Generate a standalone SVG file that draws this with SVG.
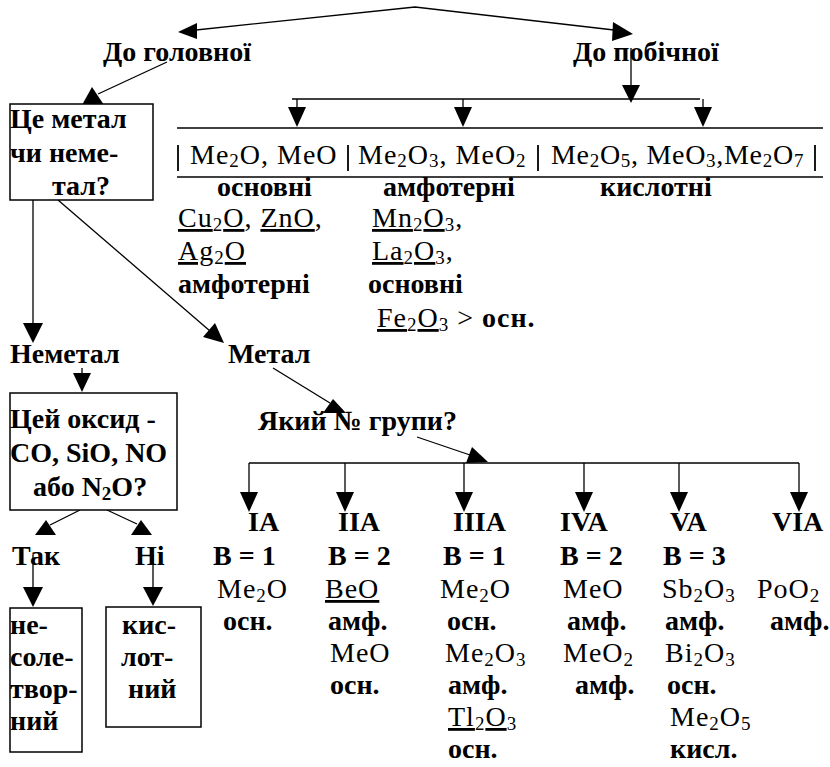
<svg xmlns="http://www.w3.org/2000/svg" width="830" height="767" viewBox="0 0 830 767">
<style>
text{font-family:"Liberation Serif","Times New Roman","DejaVu Serif",serif;font-size:28px;fill:#000}
.b{font-weight:bold}
.f{letter-spacing:1px}
.s{font-size:19px}
.u{text-decoration:underline}
.box{fill:#fff;stroke:#000;stroke-width:1.5}
.ln{stroke:#000;stroke-width:1.3;fill:none}
.bar{stroke:#000;stroke-width:1.8}
.ah{fill:#000}
</style>
<rect width="830" height="767" fill="#fff"/>

<g id="connectors">
 <polyline class="ln" points="196,30 415,7 614,30"/>
 <polygon class="ah" points="178,32 197,23 197,39"/>
 <polygon class="ah" points="633,34 613,22 612,41"/>
 <line class="ln" x1="167" y1="62" x2="98" y2="94"/>
 <polygon class="ah" points="92,87 82,105 104,105"/>
 <line class="ln" x1="631" y1="48" x2="631" y2="86"/>
 <polygon class="ah" points="622,85 640,85 631,103"/>
 <line class="ln" x1="292" y1="99" x2="700" y2="99"/>
 <line class="ln" x1="297" y1="99" x2="297" y2="108"/>
 <polygon class="ah" points="288,107 306,107 297,127"/>
 <line class="ln" x1="463" y1="99" x2="463" y2="108"/>
 <polygon class="ah" points="454,107 472,107 463,127"/>
 <line class="ln" x1="703" y1="99" x2="703" y2="108"/>
 <polygon class="ah" points="694,107 712,107 703,127"/>
 <line class="ln" x1="33" y1="200" x2="33" y2="324"/>
 <polygon class="ah" points="23,323 43,323 33,343"/>
 <line class="ln" x1="58" y1="200" x2="210" y2="331"/>
 <polygon class="ah" points="224,343 203,337 215,323"/>
 <line class="ln" x1="82" y1="368" x2="82" y2="374"/>
 <polygon class="ah" points="73,373 91,373 82,392"/>
 <line class="ln" x1="80" y1="510" x2="50" y2="525"/>
 <polygon class="ah" points="46,520 35,535 56,535"/>
 <line class="ln" x1="107" y1="510" x2="137" y2="524"/>
 <polygon class="ah" points="141,520 131,535 152,535"/>
 <line class="ln" x1="33" y1="555" x2="33" y2="588"/>
 <polygon class="ah" points="23,587 43,587 33,607"/>
 <line class="ln" x1="153" y1="555" x2="153" y2="588"/>
 <polygon class="ah" points="143,587 163,587 153,606"/>
 <line class="ln" x1="273" y1="368" x2="330" y2="403"/>
 <polygon class="ah" points="333,399 323,413 346,413"/>
 <line class="ln" x1="417" y1="437" x2="470" y2="455"/>
 <polygon class="ah" points="488,462 466,463 472,447"/>
 <line class="ln" x1="249" y1="463" x2="799" y2="463"/>
 <line class="ln" x1="249" y1="463" x2="249" y2="493"/>
 <polygon class="ah" points="240,492 258,492 249,512"/>
 <line class="ln" x1="345" y1="463" x2="345" y2="493"/>
 <polygon class="ah" points="336,492 354,492 345,512"/>
 <line class="ln" x1="464" y1="463" x2="464" y2="493"/>
 <polygon class="ah" points="455,492 473,492 464,512"/>
 <line class="ln" x1="584" y1="463" x2="584" y2="493"/>
 <polygon class="ah" points="575,492 593,492 584,512"/>
 <line class="ln" x1="679" y1="463" x2="679" y2="493"/>
 <polygon class="ah" points="670,492 688,492 679,512"/>
 <line class="ln" x1="799" y1="463" x2="799" y2="493"/>
 <polygon class="ah" points="790,492 808,492 799,512"/>
</g>

<g id="n-golovna"><text class="b" x="103" y="61">До головної</text></g>
<g id="n-pobichna"><text class="b" x="573" y="61">До побічної</text></g>

<g id="n-metal-q">
 <rect class="box" x="10" y="104" width="143" height="96"/>
 <text class="b" x="10" y="128">Це метал</text>
 <text class="b" x="10" y="162">чи неме-</text>
 <text class="b" x="52" y="195">тал?</text>
</g>

<g id="n-table">
 <line class="ln" x1="177" y1="128" x2="823" y2="128"/>
 <line class="ln" x1="177" y1="177" x2="823" y2="177"/>
 <line class="bar" x1="178" y1="145" x2="178" y2="171"/>
 <line class="bar" x1="348" y1="145" x2="348" y2="171"/>
 <line class="bar" x1="538" y1="145" x2="538" y2="171"/>
 <line class="bar" x1="815" y1="145" x2="815" y2="171"/>
 <text class="f" x="190" y="164">Me<tspan class="s" dy="3">2</tspan><tspan dy="-3">O, MeO</tspan></text>
 <text class="f" x="358" y="164">Me<tspan class="s" dy="3">2</tspan><tspan dy="-3">O</tspan><tspan class="s" dy="3">3</tspan><tspan dy="-3">, MeO</tspan><tspan class="s" dy="3">2</tspan></text>
 <text x="551" y="164" style="letter-spacing:0.7px">Me<tspan class="s" dy="3">2</tspan><tspan dy="-3">O</tspan><tspan class="s" dy="3">5</tspan><tspan dy="-3">, MeO</tspan><tspan class="s" dy="3">3</tspan><tspan dy="-3">,Me</tspan><tspan class="s" dy="3">2</tspan><tspan dy="-3">O</tspan><tspan class="s" dy="3">7</tspan></text>
 <text class="b" x="217" y="196">основні</text>
 <text class="b" x="383" y="196">амфотерні</text>
 <text class="b" x="600" y="196">кислотні</text>
</g>

<g id="n-osnovni-exc">
 <text class="f" x="178" y="227"><tspan class="u">Cu</tspan><tspan class="s" dy="4">2</tspan><tspan class="u" dy="-4">O</tspan>, <tspan class="u">ZnO</tspan>,</text>
 <text class="f" x="178" y="260"><tspan class="u">Ag</tspan><tspan class="s" dy="4">2</tspan><tspan class="u" dy="-4">O</tspan></text>
 <text class="b" x="178" y="293">амфотерні</text>
</g>

<g id="n-amfo-exc">
 <text class="f" x="372" y="227"><tspan class="u">Mn</tspan><tspan class="s" dy="4">2</tspan><tspan class="u" dy="-4">O</tspan><tspan class="s" dy="4">3</tspan><tspan dy="-4">,</tspan></text>
 <text class="f" x="372" y="260"><tspan class="u">La</tspan><tspan class="s" dy="4">2</tspan><tspan class="u" dy="-4">O</tspan><tspan class="s" dy="4">3</tspan><tspan dy="-4">,</tspan></text>
 <text class="b" x="368" y="293">основні</text>
 <text class="f" x="377" y="327"><tspan class="u">Fe</tspan><tspan class="s" dy="4">2</tspan><tspan class="u" dy="-4">O</tspan><tspan class="s" dy="4">3</tspan><tspan dy="-4"> &gt; </tspan><tspan class="b">осн.</tspan></text>
</g>

<g id="n-nemetal"><text class="b" x="10" y="363">Неметал</text></g>
<g id="n-metal"><text class="b" x="228" y="363">Метал</text></g>

<g id="n-oxide-q">
 <rect class="box" x="10" y="393" width="167" height="117"/>
 <text class="b" x="10" y="428">Цей оксид -</text>
 <text class="b" x="10" y="462">CO, SiO, NO</text>
 <text class="b" x="33" y="496">або N<tspan class="s" dy="4">2</tspan><tspan dy="-4">O?</tspan></text>
</g>

<g id="n-tak"><text class="b" x="12" y="565">Так</text></g>
<g id="n-ni"><text class="b" x="135" y="565">Ні</text></g>

<g id="n-nesol">
 <rect class="box" x="10" y="608" width="72" height="144"/>
 <text class="b" x="10" y="634">не-</text>
 <text class="b" x="10" y="666">соле-</text>
 <text class="b" x="10" y="698">твор-</text>
 <text class="b" x="10" y="730">ний</text>
</g>

<g id="n-kisl">
 <rect class="box" x="106" y="607" width="95" height="120"/>
 <text class="b" x="122" y="634">кис-</text>
 <text class="b" x="121" y="666">лот-</text>
 <text class="b" x="128" y="698">ний</text>
</g>

<g id="n-group-q"><text class="b" x="258" y="430">Який № групи?</text></g>

<g id="n-IA">
 <text class="b" x="248" y="531">IA</text>
 <text class="b" x="213" y="565">B = 1</text>
 <text class="f" x="217" y="598">Me<tspan class="s" dy="4">2</tspan><tspan dy="-4">O</tspan></text>
 <text class="b" x="223" y="630">осн.</text>
</g>

<g id="n-IIA">
 <text class="b" x="338" y="531">IIA</text>
 <text class="b" x="328" y="565">B = 2</text>
 <text class="f" x="325" y="598"><tspan class="u">BeO</tspan></text>
 <text class="b" x="328" y="630">амф.</text>
 <text class="f" x="330" y="662">MeO</text>
 <text class="b" x="330" y="694">осн.</text>
</g>

<g id="n-IIIA">
 <text class="b" x="453" y="531">IIIA</text>
 <text class="b" x="443" y="565">B = 1</text>
 <text class="f" x="440" y="598">Me<tspan class="s" dy="4">2</tspan><tspan dy="-4">O</tspan></text>
 <text class="b" x="447" y="630">осн.</text>
 <text class="f" x="445" y="662">Me<tspan class="s" dy="4">2</tspan><tspan dy="-4">O</tspan><tspan class="s" dy="4">3</tspan></text>
 <text class="b" x="448" y="694">амф.</text>
 <text class="f" x="448" y="726"><tspan class="u">Tl</tspan><tspan class="s" dy="4">2</tspan><tspan class="u" dy="-4">O</tspan><tspan class="s" dy="4">3</tspan></text>
 <text class="b" x="448" y="758">осн.</text>
</g>

<g id="n-IVA">
 <text class="b" x="560" y="531">IVA</text>
 <text class="b" x="560" y="565">B = 2</text>
 <text class="f" x="563" y="598">MeO</text>
 <text class="b" x="567" y="630">амф.</text>
 <text class="f" x="563" y="662">MeO<tspan class="s" dy="4">2</tspan></text>
 <text class="b" x="575" y="694">амф.</text>
</g>

<g id="n-VA">
 <text class="b" x="670" y="531">VA</text>
 <text class="b" x="663" y="565">B = 3</text>
 <text class="f" x="662" y="598">Sb<tspan class="s" dy="4">2</tspan><tspan dy="-4">O</tspan><tspan class="s" dy="4">3</tspan></text>
 <text class="b" x="665" y="630">амф.</text>
 <text class="f" x="665" y="662">Bi<tspan class="s" dy="4">2</tspan><tspan dy="-4">O</tspan><tspan class="s" dy="4">3</tspan></text>
 <text class="b" x="667" y="694">осн.</text>
 <text class="f" x="670" y="726">Me<tspan class="s" dy="4">2</tspan><tspan dy="-4">O</tspan><tspan class="s" dy="4">5</tspan></text>
 <text class="b" x="670" y="758">кисл.</text>
</g>

<g id="n-VIA">
 <text class="b" x="772" y="531">VIA</text>
 <text class="f" x="757" y="598">PoO<tspan class="s" dy="4">2</tspan></text>
 <text class="b" x="770" y="630">амф.</text>
</g>
</svg>
